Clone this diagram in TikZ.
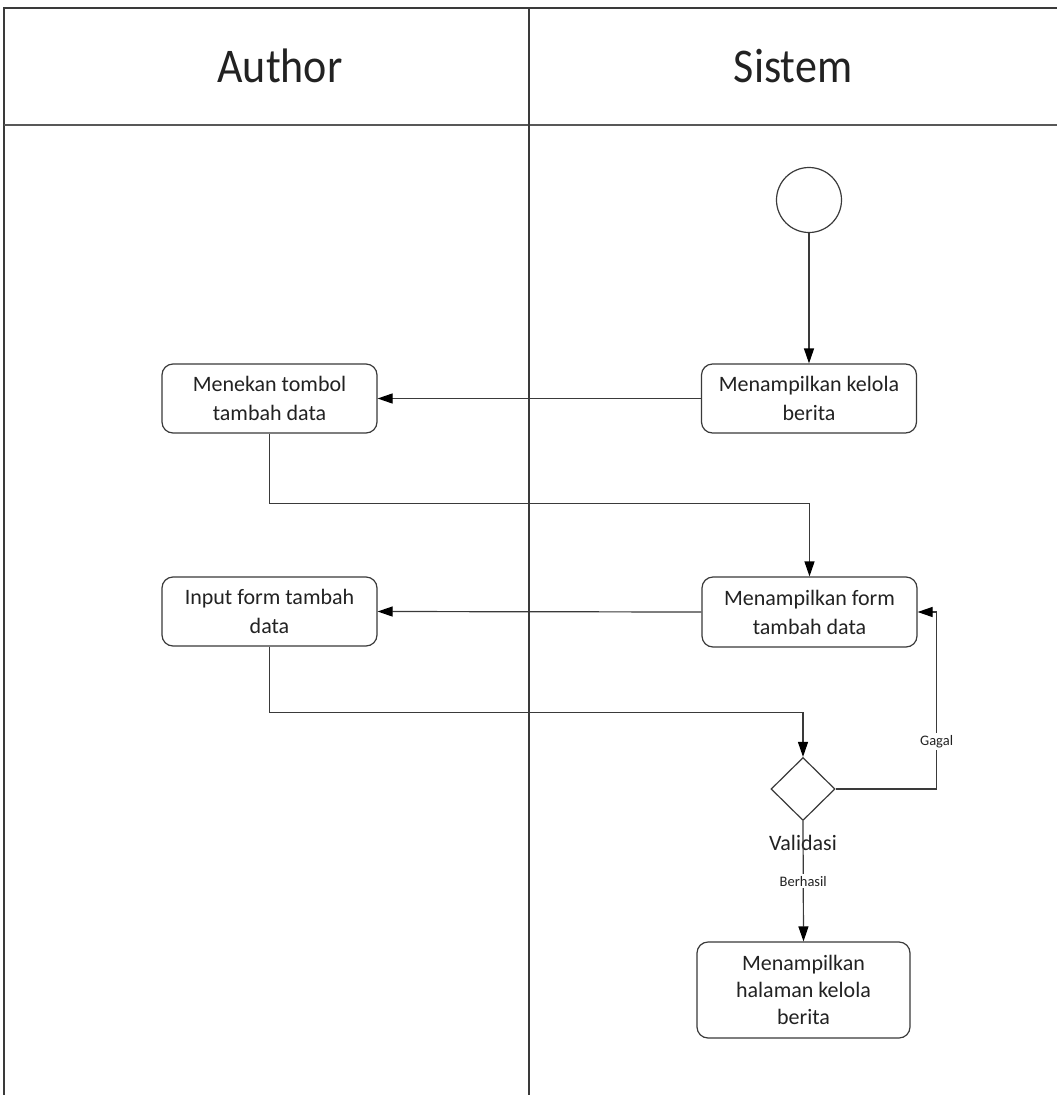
\documentclass[tikz,border=0pt]{standalone}
\usepackage{fontspec}
\setmainfont{Carlito}
\usetikzlibrary{arrows.meta,shapes.geometric}
\definecolor{linegray}{HTML}{3A3A3A}
\definecolor{textgray}{HTML}{222222}
\begin{document}
\begin{tikzpicture}[x=1pt,y=-1pt,
  lane/.style={draw=linegray,line width=1.4pt},
  actbox/.style={draw=linegray,line width=1.2pt,rounded corners=11pt,fill=white,
    minimum width=215pt,minimum height=69pt,align=center,text=textgray,
    font=\fontsize{22}{29}\selectfont,inner sep=2pt},
  flow/.style={draw=linegray,line width=1.2pt,-{Triangle[length=15pt,width=10pt,fill=black,color=black]}},
  guard/.style={fill=white,text=textgray,font=\fontsize{14.5}{16}\selectfont,inner sep=2pt},
  lanehead/.style={text=textgray,font=\fontsize{44}{50}\selectfont,yscale=1.1}]
  \useasboundingbox (0,0) rectangle (1057,1095);
  \fill[white] (0,0) rectangle (1057,1095);

  % swimlane frame
  \draw[lane] (4,1095) -- (4,8) -- (1057,8);
  \draw[lane,line width=1.8pt,draw=linegray!85] (4,125) -- (1057,125);
  \draw[lane] (529,8) -- (529,1095);
  \node[lanehead] (hauthor) at (280,66) {Author};
  \node[lanehead] (hsistem) at (793,66) {Sistem};

  % activity nodes
  \node[circle,draw=linegray,line width=1.2pt,minimum size=65pt,inner sep=0pt] (start) at (809,200) {};
  \node[actbox] (b2) at (809,398.5) {Menampilkan kelola\\berita};
  \node[actbox] (b1) at (269.5,398.5) {Menekan tombol\\tambah data};
  \node[actbox,minimum height=70pt] (b3) at (809.5,612) {Menampilkan form\\tambah data};
  \node[actbox] (b4) at (269.5,611.5) {Input form tambah\\data};
  \node[diamond,draw=linegray,line width=1.2pt,fill=white,minimum width=64pt,minimum height=63pt,inner sep=0pt,aspect=1] (dec) at (803,789) {};
  \node[text=textgray,font=\fontsize{22}{26}\selectfont] (vlabel) at (803,843) {Validasi};
  \node[actbox,minimum width=213pt,minimum height=96pt,font=\fontsize{22}{27}\selectfont] (b5) at (803.5,990) {Menampilkan\\halaman kelola\\berita};

  % control flow
  \draw[flow] (start) -- (b2);
  \draw[flow] (b2.west) -- (b1.east);
  \draw[flow] (b1.south) -- ++(0,70) -| (b3.north);
  \draw[flow] (b3.west) -- (b4.east);
  \draw[flow] (b4.south) -- ++(0,66) -| (dec.north);
  \draw[flow] (dec.east) -- ++(101,0) |- node[guard,pos=0.135] (gagal) {Gagal} (b3.east);
  \draw[flow] (dec.south) -- node[guard,pos=0.5] (berhasil) {Berhasil} (b5.north);
\end{tikzpicture}
\end{document}
